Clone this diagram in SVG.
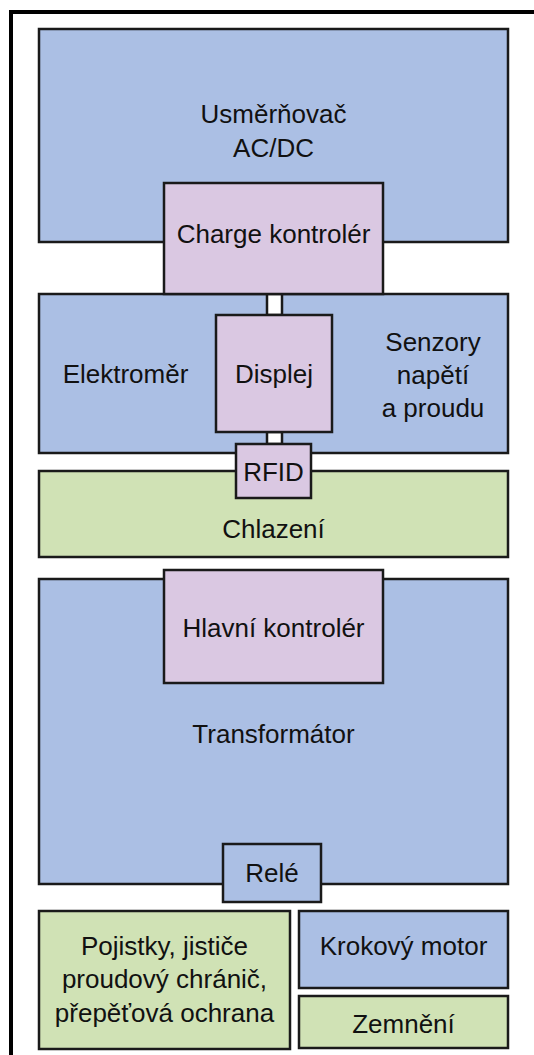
<svg xmlns="http://www.w3.org/2000/svg" width="534" height="1055" viewBox="0 0 534 1055">
<style>
rect.b{fill:#abbfe4;stroke:#1a1a1a;stroke-width:2.5}
rect.p{fill:#dac8e2;stroke:#1a1a1a;stroke-width:2.5}
rect.g{fill:#d0e2b5;stroke:#1a1a1a;stroke-width:2.5}
rect.c{fill:#ffffff;stroke:#1a1a1a;stroke-width:2.5}
text{font-family:"Liberation Sans",Arial,sans-serif;font-size:26px;fill:#111;text-anchor:middle}
</style>
<rect width="534" height="1055" fill="#ffffff"/>
<path d="M11 1055 V12 H534" fill="none" stroke="#000" stroke-width="4"/>
<g id="usmernovac"><rect class="b" x="39" y="29" width="469" height="213"/><text x="273.5" y="123">Usměrňovač</text><text x="273.5" y="157">AC/DC</text></g>
<g id="blok2"><rect class="b" x="39" y="294" width="469" height="159"/><text x="125.5" y="383">Elektroměr</text><text x="433" y="351">Senzory</text><text x="433" y="384">napětí</text><text x="433" y="417">a proudu</text></g>
<g id="chlazeni"><rect class="g" x="39" y="471" width="469" height="86"/><text x="273.5" y="538">Chlazení</text></g>
<g id="connectors"><rect class="c" x="267" y="294" width="15" height="21"/><rect class="c" x="267" y="432" width="15" height="12"/></g>
<g id="charge"><rect class="p" x="164" y="183" width="219" height="111"/><text x="273.5" y="243">Charge kontrolér</text></g>
<g id="displej"><rect class="p" x="216" y="315" width="116" height="117"/><text x="274" y="383">Displej</text></g>
<g id="rfid"><rect class="p" x="236" y="444" width="75" height="54"/><text x="273.5" y="481">RFID</text></g>
<g id="transformator"><rect class="b" x="39" y="579" width="469" height="305"/><text x="273.5" y="743">Transformátor</text></g>
<g id="hlavni"><rect class="p" x="164" y="570" width="219" height="113"/><text x="273.5" y="637">Hlavní kontrolér</text></g>
<g id="rele"><rect class="b" x="223" y="844" width="98" height="58"/><text x="272" y="882">Relé</text></g>
<g id="pojistky"><rect class="g" x="39" y="911" width="251" height="138"/><text x="164.5" y="955">Pojistky, jističe</text><text x="164.5" y="988">proudový chránič,</text><text x="164.5" y="1022">přepěťová ochrana</text></g>
<g id="krokovy"><rect class="b" x="299" y="911" width="209" height="77"/><text x="403.5" y="955">Krokový motor</text></g>
<g id="zemneni"><rect class="g" x="299" y="996" width="209" height="52"/><text x="403.5" y="1033">Zemnění</text></g>
</svg>
